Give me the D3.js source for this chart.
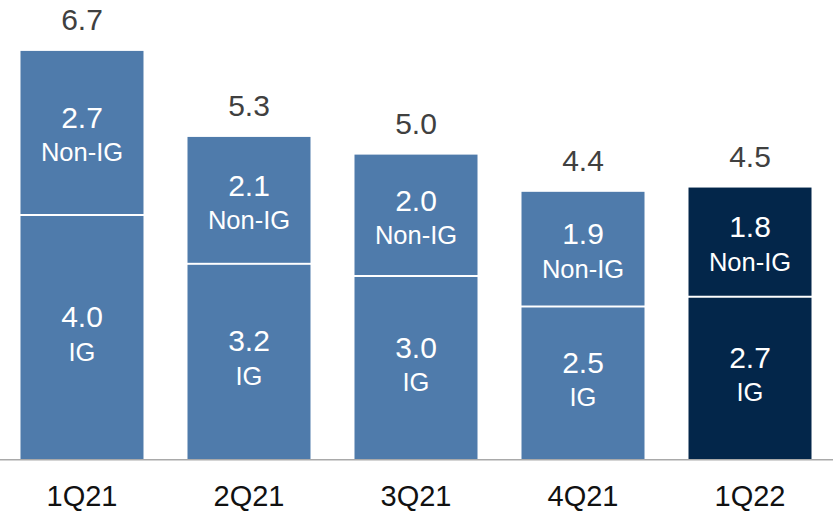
<!DOCTYPE html>
<html>
<head>
<meta charset="utf-8">
<script src="https://cdn.jsdelivr.net/npm/d3@7"></script>
<style>
  html, body { margin: 0; padding: 0; background: #fff; }
  svg { display: block; }
  text { font-family: "Liberation Sans", Arial, Helvetica, sans-serif; }
</style>
</head>
<body>
<svg id="chart" width="833" height="514"></svg>
<script>
// ---- data ----
const categories = ["1Q21", "2Q21", "3Q21", "4Q21", "1Q22"];
const igValues = [4.0, 3.2, 3.0, 2.5, 2.66];
const nonIgValues = [2.69, 2.08, 1.99, 1.88, 1.79];
const igLabels = ["4.0", "3.2", "3.0", "2.5", "2.7"];
const nonIgLabels = ["2.7", "2.1", "2.0", "1.9", "1.8"];
const totalLabels = ["6.7", "5.3", "5.0", "4.4", "4.5"];
const highlighted = ["1Q22"];

// ---- layout ----
const W = 833, H = 514;
const base = 459;
const svg = d3.select("#chart");

const x = d3.scaleBand()
  .domain(categories)
  .range([-1.5, 833.5])
  .paddingInner(0.2635)
  .paddingOuter(0.1317);

const y = d3.scaleLinear()
  .domain([0, 7])
  .range([base, base - 7 * 61]);

const colorLight = "#4f7bab";
const colorDark = "#03264a";
const fillFor = c => highlighted.includes(c) ? colorDark : colorLight;

const rows = categories.map((c, i) => ({
  cat: c,
  ig: igValues[i],
  non: nonIgValues[i],
  total: igValues[i] + nonIgValues[i],
  igLabel: igLabels[i],
  nonLabel: nonIgLabels[i],
  totalLabel: totalLabels[i]
}));

const g = svg.append("g");

// IG segments
g.selectAll("rect.ig").data(rows).join("rect")
  .attr("class", "ig")
  .attr("x", d => x(d.cat))
  .attr("width", x.bandwidth())
  .attr("y", d => y(d.ig) + 1)
  .attr("height", d => y(0) - y(d.ig) - 1)
  .attr("fill", d => fillFor(d.cat));

// Non-IG segments
g.selectAll("rect.non").data(rows).join("rect")
  .attr("class", "non")
  .attr("x", d => x(d.cat))
  .attr("width", x.bandwidth())
  .attr("y", d => y(d.total))
  .attr("height", d => y(d.ig) - y(d.total) - 1)
  .attr("fill", d => fillFor(d.cat));

// baseline
svg.append("line")
  .attr("x1", 0).attr("x2", W)
  .attr("y1", base + 0.75).attr("y2", base + 0.75)
  .attr("stroke", "#a9a9a9")
  .attr("stroke-width", 1.6);

const cx = d => x(d.cat) + x.bandwidth() / 2;

// Non-IG labels
g.selectAll("text.nonv").data(rows).join("text")
  .attr("class", "nonv")
  .attr("x", cx)
  .attr("y", d => (y(d.total) + y(d.ig)) / 2 - 4.7)
  .attr("text-anchor", "middle")
  .attr("fill", "#fff")
  .attr("font-size", 30)
  .text(d => d.nonLabel);

g.selectAll("text.nonl").data(rows).join("text")
  .attr("class", "nonl")
  .attr("x", cx)
  .attr("y", d => (y(d.total) + y(d.ig)) / 2 + 28.5)
  .attr("text-anchor", "middle")
  .attr("fill", "#fff")
  .attr("font-size", 25.5)
  .text("Non-IG");

// IG labels
g.selectAll("text.igv").data(rows).join("text")
  .attr("class", "igv")
  .attr("x", cx)
  .attr("y", d => (y(d.ig) + y(0)) / 2 - 10)
  .attr("text-anchor", "middle")
  .attr("fill", "#fff")
  .attr("font-size", 30)
  .text(d => d.igLabel);

g.selectAll("text.igl").data(rows).join("text")
  .attr("class", "igl")
  .attr("x", cx)
  .attr("y", d => (y(d.ig) + y(0)) / 2 + 23.5)
  .attr("text-anchor", "middle")
  .attr("fill", "#fff")
  .attr("font-size", 25.5)
  .text("IG");

// total labels
g.selectAll("text.tot").data(rows).join("text")
  .attr("class", "tot")
  .attr("x", cx)
  .attr("y", d => y(d.total) - 21)
  .attr("text-anchor", "middle")
  .attr("fill", "#404040")
  .attr("font-size", 30)
  .text(d => d.totalLabel);

// category axis labels
svg.append("g").selectAll("text.cat").data(categories).join("text")
  .attr("class", "cat")
  .attr("x", c => x(c) + x.bandwidth() / 2)
  .attr("y", 506)
  .attr("text-anchor", "middle")
  .attr("fill", "#111")
  .attr("font-size", 29)
  .text(c => c);
</script>
</body>
</html>
